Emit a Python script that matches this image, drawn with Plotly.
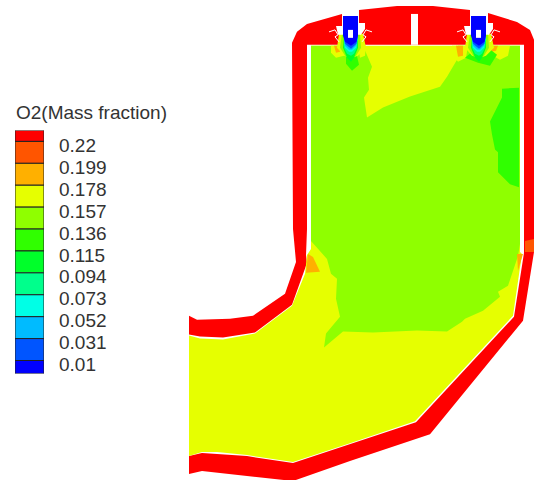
import plotly.graph_objects as go

# ---- legend data
levels = [0.22, 0.199, 0.178, 0.157, 0.136, 0.115, 0.094, 0.073, 0.052, 0.031, 0.01]
level_labels = ["0.22", "0.199", "0.178", "0.157", "0.136", "0.115", "0.094", "0.073", "0.052", "0.031", "0.01"]
band_edges = [0.2343, 0.2238, 0.2028, 0.1818, 0.1608, 0.1398, 0.1188, 0.0978, 0.0768, 0.0558, 0.0348, 0.0138, 0.0014]
band_colors = ["#ff0000", "#ff5500", "#ffb000", "#e6ff00", "#8fff00", "#30ff00",
               "#00ff2a", "#00ff8c", "#00ffe6", "#00bbff", "#0055ff", "#0000ff"]
RED, ORANGE, AMBER, YELLOW, LIME, GREEN, GREEN2, SPRING, CYAN, SKY, AZURE, BLUE = band_colors

# ---- contour outlines of the O2 field
wall = [(189,317),(197,321),(230,320),(253,317),(285,295),(296,263),(293,230),(292,43),(297,32),(307,24),
        (342,14),(342,46),(359,46),(359,10),(397,6),(433,6),(470,10),(470,46),(488,46),(488,13),(517,22),
        (530,30),(534,40),(534,253),(523,322),(430,436),(350,463),(293,483),(202,473),(189,476)]
cavity = [(189,336),(200,338),(223,339),(255,334),(292,306),(307,264),(306,256),(307,230),(307,45),(524,45),
          (524,254),(514,318),(416,424),(350,446),(293,465),(247,458),(202,455),(189,458)]
slot = [(411,14),(418,14),(418,45),(411,45)]
gas_yellow = [(311,46),(520,46),(520,253),(522,255),(513,317),(415,423),(350,445),(293,464),(247,457),(217,454),
              (202,454),(189,458),(189,337),(200,340),(223,341),(255,335),(292,307),(305,275),(307,256),(311,250)]
gas_lime = [(311,46),(363,46),(372,67),(368,78),(369,90),(364,98),(367,118),(383,108),(410,97),(440,87),(447,77),
            (457,60),(458,46),(520,46),(520,245),(518,257),(508,287),(498,293),(500,298),(483,312),(465,320),
            (462,323),(447,333),(417,332),(373,334),(350,333),(343,333),(324,349),(326,335),(340,318),(336,300),
            (337,280),(331,275),(327,260),(311,242)]
patch_green = [(519,88),(502,89),(502,98),(490,122),(492,135),(495,150),(498,153),(498,173),(510,185),(519,188)]
duct_amber = [(308,255),(313,258),(320,273),(306,274)]
wall_orange = [(525,242),(534,240),(534,253),(525,253)]
rim_amber = [(517,255),(523,255),(518,272)]

left_amber1 = [(334,46),(341,46),(340,52),(336,53)]
left_yellow1 = [(331,46),(343,46),(344,56),(336,58),(331,53)]
left_yellow2 = [(358,46),(366,46),(365,56),(360,58)]
left_green = [(346,52),(356,52),(359,65),(352,71),(346,64)]

right_yellow1 = [(452,46),(468,46),(466,58),(458,62),(452,55)]
right_orange1 = [(456,46),(463,46),(463,56),(458,57)]
right_yellow2 = [(489,46),(510,46),(508,56),(500,60),(491,55)]
right_orange2 = [(490,46),(498,46),(496,51),(491,52)]
right_green = [(470,48),(488,48),(497,55),(490,66),(478,63),(465,58),(471,53)]

cone_yellow = [(339,34),(363,34),(366,48),(358,56),(352,58),(344,56),(337,48)]
cone_lime = [(342,34),(360,34),(361,48),(356,56),(351,60),(345,56),(340,48)]
cone_green = [(344,36),(358,36),(358,48),(354,58),(351,62),(347,58),(343,48)]
cone_spring = [(344,36),(358,36),(357,48),(354,54),(351,56),(347,54),(344,48)]
cone_cyan = [(344,36),(358,36),(356,48),(352,52),(349,52),(345,48)]
cone_sky = [(344,36),(358,36),(356,46),(352,50),(349,50),(345,46)]
cone_azure = [(343,32),(358,32),(356.5,44),(351,49),(345,44)]
nozzle = [(343,16),(358,16),(358,36),(356.5,42),(351,46),(345,42),(343,36)]
nozzle_hole = [(348,30),(353,30),(353,38),(348,38)]
notch_left = [(336,26),(343,26),(343,35),(338,35)]
notch_right = [(358,23),(365,23),(365,29),(361,35),(358,35)]
squiggle_left = [(329,32),(335,30),(338,35),(335,37),(339,42)]
squiggle_right = [(372,32),(366,30),(363,35),(366,37),(362,42)]
INJECTOR_SHIFT = [0, 128]

fig = go.Figure()


def poly(points, color, dx=0):
    fig.add_trace(go.Scatter(x=[p[0] + dx for p in points] + [points[0][0] + dx],
                             y=[p[1] for p in points] + [points[0][1]],
                             mode="lines", fill="toself", fillcolor=color,
                             line=dict(width=0, color=color), hoverinfo="skip", showlegend=False))


def line(points, dx=0):
    fig.add_trace(go.Scatter(x=[p[0] + dx for p in points], y=[p[1] for p in points], mode="lines",
                             line=dict(width=1, color="white"), hoverinfo="skip", showlegend=False))


poly(wall, RED)
poly(cavity, "white")
poly(slot, "white")
poly(gas_yellow, YELLOW)
poly(gas_lime, LIME)
poly(patch_green, GREEN)
poly(duct_amber, AMBER)
poly(wall_orange, ORANGE)
poly(rim_amber, AMBER)
poly(left_yellow1, YELLOW)
poly(left_yellow2, YELLOW)
poly(left_amber1, AMBER)
poly(left_green, GREEN)
poly(right_yellow1, YELLOW)
poly(right_orange1, AMBER)
poly(right_yellow2, YELLOW)
poly(right_orange2, AMBER)
poly(right_green, GREEN)
for dx in INJECTOR_SHIFT:
    poly(cone_yellow, YELLOW, dx)
    poly(cone_lime, LIME, dx)
    poly(cone_green, GREEN2, dx)
    poly(cone_spring, SPRING, dx)
    poly(cone_cyan, CYAN, dx)
    poly(cone_sky, SKY, dx)
    poly(cone_azure, AZURE, dx)
    poly(notch_left, "white", dx)
    poly(notch_right, "white", dx)
    poly(nozzle, BLUE, dx)
    poly(nozzle_hole, "white", dx)
    line(squiggle_left, dx)
    line(squiggle_right, dx)

# ---- colour key
fig.add_trace(go.Bar(x=[0] * len(band_colors),
                     base=band_edges[1:],
                     y=[band_edges[i] - band_edges[i + 1] for i in range(len(band_colors))],
                     width=1, marker=dict(color=band_colors, line=dict(color="#222222", width=1)),
                     xaxis="x2", yaxis="y2", hoverinfo="skip", showlegend=False))

W, H = 534, 482
fig.update_layout(
    width=W, height=H, margin=dict(l=0, r=0, t=0, b=0), paper_bgcolor="white", plot_bgcolor="rgba(0,0,0,0)",
    font=dict(family="Liberation Sans, Arial, sans-serif", color="#333333"),
    barmode="overlay",
    xaxis=dict(range=[0, W], visible=False, domain=[0, 1]),
    yaxis=dict(range=[H, 0], visible=False, domain=[0, 1]),
    xaxis2=dict(range=[-0.5, 0.5], domain=[15 / W, 44 / W], visible=False, anchor="y2"),
    yaxis2=dict(range=[band_edges[-1], band_edges[0]], domain=[1 - 375 / H, 1 - 131 / H], anchor="x2",
                side="right", tickmode="array", tickvals=levels, ticktext=level_labels, ticks="",
                showgrid=False, zeroline=False, showline=False, ticklabelstandoff=14,
                tickfont=dict(size=19, color="#333333")),
    annotations=[dict(text="O2(Mass fraction)", xref="paper", yref="paper", x=14 / W, y=1 - 113 / H,
                      xanchor="left", yanchor="middle", showarrow=False, font=dict(size=19, color="#333333"))],
)
fig.write_html("out.html", config=dict(displayModeBar=False), post_script="document.body.style.margin='0';")
